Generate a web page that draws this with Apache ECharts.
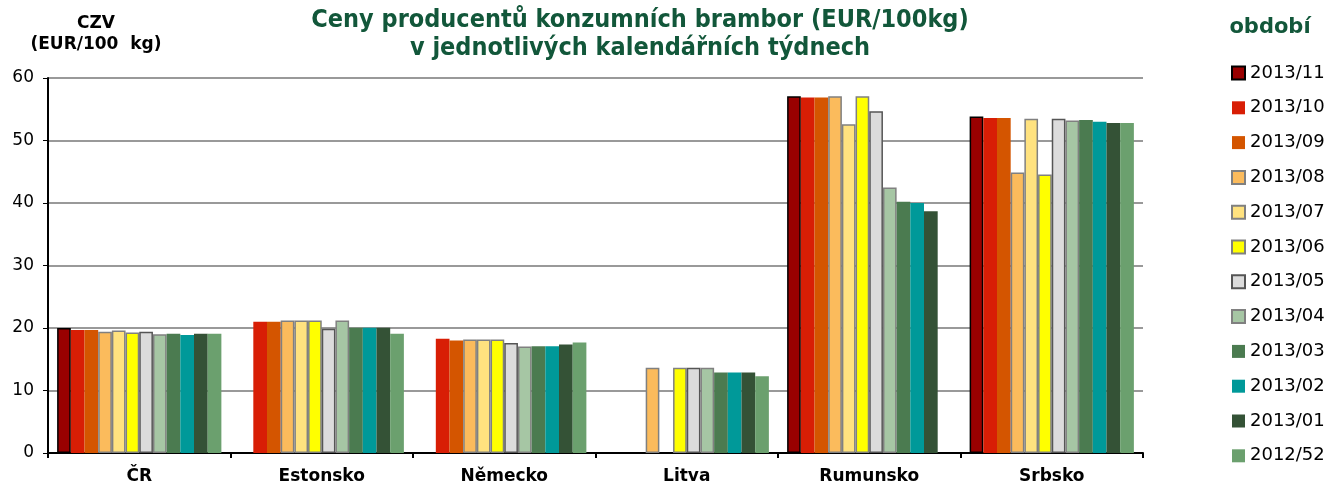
<!DOCTYPE html>
<html>
<head>
<meta charset="utf-8">
<script src="https://cdn.jsdelivr.net/npm/echarts@6/dist/echarts.min.js"></script>
<style>html,body{margin:0;padding:0;background:#fff}#c{width:1328px;height:485px}</style>
</head>
<body>
<div id="c"></div>
<script>
var categories = ['ČR', 'Estonsko', 'Německo', 'Litva', 'Rumunsko', 'Srbsko'];
var periods = ['2013/11', '2013/10', '2013/09', '2013/08', '2013/07', '2013/06', '2013/05', '2013/04', '2013/03', '2013/02', '2013/01', '2012/52'];
var v2013_11 = [20.0, null, null, null, 57.1, 53.85];
var v2013_10 = [19.7, 21.0, 18.3, null, 56.9, 53.6];
var v2013_09 = [19.7, 21.0, 18.0, null, 56.9, 53.6];
var v2013_08 = [19.4, 21.2, 18.15, 13.65, 57.1, 44.9];
var v2013_07 = [19.6, 21.2, 18.15, null, 52.6, 53.5];
var v2013_06 = [19.3, 21.2, 18.15, 13.65, 57.1, 44.55];
var v2013_05 = [19.4, 19.9, 17.6, 13.65, 54.7, 53.5];
var v2013_04 = [19.0, 21.2, 17.05, 13.65, 42.5, 53.2];
var v2013_03 = [19.1, 20.05, 17.1, 12.9, 40.2, 53.3];
var v2013_02 = [18.9, 20.05, 17.1, 12.9, 40.0, 53.0];
var v2013_01 = [19.1, 20.05, 17.35, 12.9, 38.7, 52.8];
var v2012_52 = [19.1, 19.1, 17.7, 12.3, null, 52.8];
var yTicks = [0, 10, 20, 30, 40, 50, 60];

var values = [v2013_11, v2013_10, v2013_09, v2013_08, v2013_07, v2013_06, v2013_05, v2013_04, v2013_03, v2013_02, v2013_01, v2012_52];
var colors = ['#990000', '#d81e05', '#d45500', '#fbbb5c', '#ffe27f', '#ffff00', '#dcdcdc', '#a6c6a4', '#4b7b50', '#009999', '#345236', '#6ba06e'];
var borders = ['#000000', null, null, '#808080', '#808080', '#808080', '#555555', '#808080', null, null, null, null];

var chart = echarts.init(document.getElementById('c'), null, {renderer: 'canvas'});
var series = periods.map(function (p, i) {
  var st = {color: colors[i]};
  if (borders[i]) { st.borderColor = borders[i]; st.borderWidth = 1.5; }
  return {
    name: p, type: 'bar', data: values[i], itemStyle: st,
    barGap: '0%', barCategoryGap: '10%', animation: false
  };
});
chart.setOption({
  animation: false,
  title: {
    text: 'Ceny producentů konzumních brambor (EUR/100kg)\nv jednotlivých kalendářních týdnech',
    left: 635, top: 1, textAlign: 'center',
    textStyle: {fontFamily: 'DejaVu Sans Condensed', fontWeight: 'bold', fontSize: 25, color: '#12573a', lineHeight: 28}
  },
  graphic: [
    {type: 'text', x: 96, y: 13, style: {text: 'CZV\n(EUR/100  kg)', align: 'center', font: 'bold 17px "DejaVu Sans"', lineHeight: 21, fill: '#000'}},
    {type: 'text', x: 1270, y: 17, style: {text: 'období', align: 'center', font: 'bold 21px "DejaVu Sans"', fill: '#12573a'}}
  ],
  legend: {
    orient: 'vertical', left: 1231, top: 64, padding: 0, itemWidth: 13, itemHeight: 13, itemGap: 16.8,
    icon: 'rect',
    textStyle: {fontFamily: 'DejaVu Sans', fontSize: 18, lineHeight: 18, color: '#000'},
    data: periods.map(function (p, i) {
      var st = {color: colors[i]};
      if (borders[i]) { st.borderColor = borders[i]; st.borderWidth = 2; } else { st.borderWidth = 0; }
      return {name: p, itemStyle: st};
    })
  },
  grid: {left: 48, right: 185, top: 78, bottom: 29, containLabel: false},
  xAxis: {
    type: 'category', data: categories,
    axisLine: {lineStyle: {color: '#000', width: 2}},
    axisTick: {show: true, length: 5, lineStyle: {color: '#000', width: 2}},
    axisLabel: {fontFamily: 'DejaVu Sans', fontWeight: 'bold', fontSize: 17, color: '#000', margin: 15}
  },
  yAxis: {
    type: 'value', min: yTicks[0], max: yTicks[yTicks.length - 1], interval: 10,
    axisLine: {show: true, lineStyle: {color: '#000', width: 2}},
    axisTick: {show: true, length: 5, lineStyle: {color: '#000', width: 1}},
    axisLabel: {fontFamily: 'DejaVu Sans', fontSize: 17, color: '#000', margin: 14},
    splitLine: {lineStyle: {color: '#999999', width: 2}}
  },
  series: series
});
</script>
</body>
</html>
